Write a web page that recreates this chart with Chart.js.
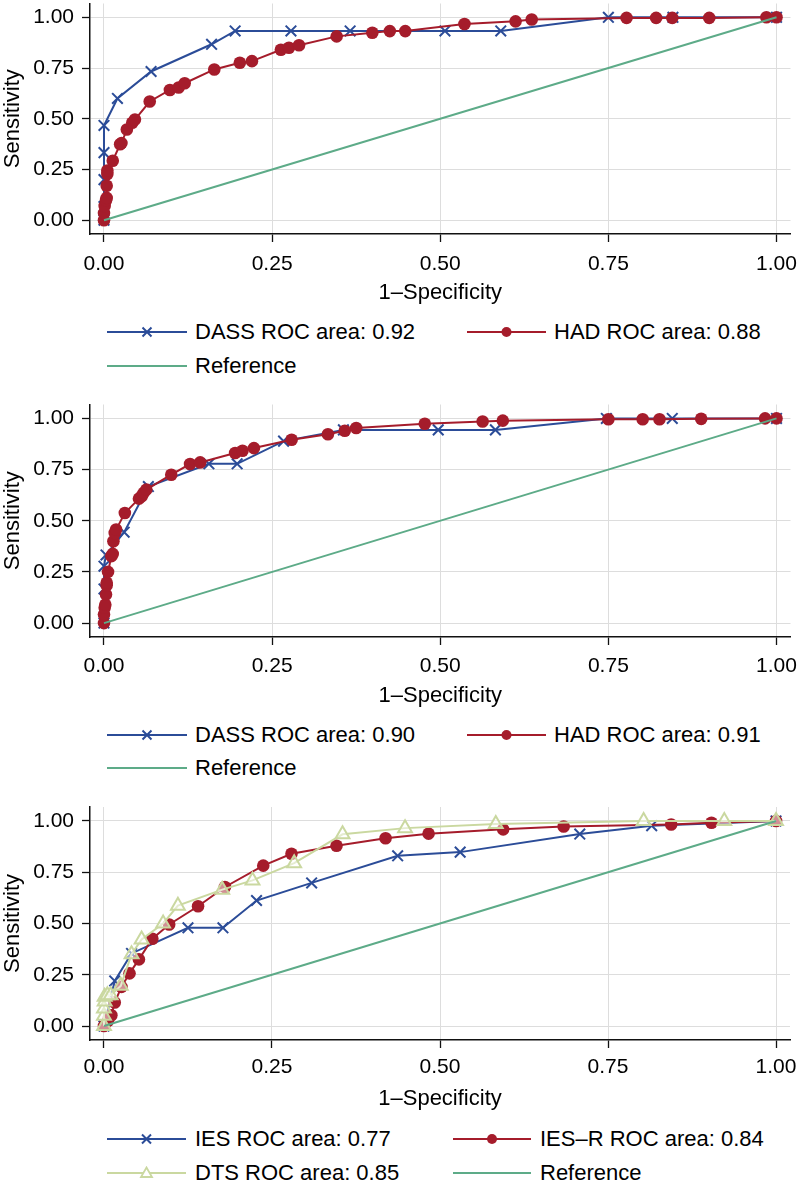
<!DOCTYPE html>
<html><head><meta charset="utf-8">
<script src="https://cdn.jsdelivr.net/npm/chart.js@4.4.1/dist/chart.umd.min.js"></script>
<style>
body{margin:0;background:#fff;}
#wrap{position:relative;width:800px;height:1185px;overflow:hidden;background:#fff;font-family:"Liberation Sans",Arial,Helvetica,sans-serif;}
canvas{position:absolute;left:0;}
.leg{position:absolute;height:26px;line-height:26px;font-size:22px;color:#000;white-space:nowrap;}
.leg svg{position:absolute;left:0;top:6px;}
.leg span{position:absolute;top:0;}
</style></head>
<body>
<div id="wrap">
<canvas id="c1" width="800" height="315" style="top:-6px"></canvas>
<canvas id="c2" width="800" height="317" style="top:395px"></canvas>
<canvas id="c3" width="800" height="325" style="top:790px"></canvas>
</div>
<script>
// ---------- data ----------
const xTicks = [0, 0.25, 0.5, 0.75, 1];
const yTicks = [0, 0.25, 0.5, 0.75, 1];
const tickLabels = ['0.00', '0.25', '0.50', '0.75', '1.00'];
const xTitle = '1\u2013Specificity';
const yTitle = 'Sensitivity';

// Panel 1
const dass1X = [0, 0, 0, 0, 0, 0.02, 0.07, 0.16, 0.195, 0.278, 0.366, 0.507, 0.59, 0.75, 0.846, 1];
const dass1Y = [0, 0.067, 0.2, 0.333, 0.467, 0.6, 0.733, 0.867, 0.933, 0.933, 0.933, 0.933, 0.933, 1, 1, 1];
const had1X = [0, 0, 0.001, 0.003, 0.004, 0.004, 0.005, 0.005, 0.013, 0.024, 0.026, 0.034, 0.042, 0.046, 0.068, 0.098, 0.111, 0.12, 0.164, 0.202, 0.22, 0.263, 0.275, 0.29, 0.346, 0.399, 0.425, 0.448, 0.536, 0.612, 0.636, 0.777, 0.821, 0.845, 0.9, 0.985, 1];
const had1Y = [0, 0.035, 0.07, 0.098, 0.11, 0.17, 0.228, 0.245, 0.293, 0.374, 0.38, 0.447, 0.48, 0.496, 0.585, 0.642, 0.654, 0.675, 0.743, 0.776, 0.784, 0.84, 0.85, 0.862, 0.906, 0.924, 0.932, 0.932, 0.967, 0.98, 0.989, 0.997, 0.997, 0.997, 0.997, 1, 1];
const legend1 = ['DASS ROC area: 0.92', 'HAD ROC area: 0.88', 'Reference'];

// Panel 2
const dass2X = [0, 0, 0, 0.003, 0.03, 0.066, 0.156, 0.198, 0.267, 0.356, 0.497, 0.582, 0.747, 0.845, 1];
const dass2Y = [0, 0.167, 0.278, 0.333, 0.444, 0.667, 0.778, 0.778, 0.889, 0.944, 0.944, 0.944, 1, 1, 1];
const had2X = [0, 0, 0.001, 0.002, 0.003, 0.004, 0.004, 0.006, 0.011, 0.013, 0.014, 0.016, 0.018, 0.031, 0.052, 0.056, 0.059, 0.063, 0.1, 0.128, 0.143, 0.195, 0.206, 0.223, 0.279, 0.333, 0.358, 0.375, 0.477, 0.563, 0.593, 0.75, 0.801, 0.826, 0.888, 0.983, 1];
const had2Y = [0, 0.042, 0.075, 0.09, 0.14, 0.185, 0.197, 0.25, 0.327, 0.338, 0.4, 0.44, 0.457, 0.538, 0.608, 0.62, 0.636, 0.652, 0.725, 0.777, 0.785, 0.831, 0.842, 0.855, 0.896, 0.923, 0.94, 0.953, 0.974, 0.985, 0.989, 0.996, 0.996, 0.996, 0.998, 1, 1];
const legend2 = ['DASS ROC area: 0.90', 'HAD ROC area: 0.91', 'Reference'];

// Panel 3
const ies3X = [0, 0.016, 0.041, 0.125, 0.177, 0.227, 0.309, 0.437, 0.53, 0.708, 0.815, 1];
const ies3Y = [0, 0.22, 0.354, 0.479, 0.479, 0.612, 0.698, 0.83, 0.848, 0.936, 0.977, 1];
const iesr3X = [0, 0.006, 0.011, 0.016, 0.026, 0.038, 0.052, 0.072, 0.097, 0.14, 0.18, 0.237, 0.279, 0.346, 0.419, 0.483, 0.594, 0.684, 0.844, 0.904, 1];
const iesr3Y = [0, 0.026, 0.053, 0.115, 0.191, 0.257, 0.325, 0.426, 0.495, 0.584, 0.678, 0.782, 0.84, 0.879, 0.916, 0.938, 0.959, 0.973, 0.983, 0.991, 1];
const dts3X = [0, 0, 0, 0.001, 0.001, 0.005, 0.01, 0.025, 0.041, 0.056, 0.088, 0.11, 0.176, 0.221, 0.283, 0.355, 0.448, 0.583, 0.803, 0.923, 1];
const dts3Y = [0, 0.05, 0.085, 0.12, 0.143, 0.15, 0.15, 0.196, 0.35, 0.422, 0.5, 0.587, 0.665, 0.71, 0.794, 0.935, 0.965, 0.985, 1, 1, 1];
const legend3 = ['IES ROC area: 0.77', 'IES\u2013R ROC area: 0.84', 'DTS ROC area: 0.85', 'Reference'];

// Reference diagonal
const refX = [0, 1];
const refY = [0, 1];

// ---------- styles ----------
const BLUE = '#2b4c98';
const RED = '#a51c2b';
const LGREEN = '#cad8a0';
const TEAL = '#5dab88';
const FONT = '"Liberation Sans", Arial, Helvetica, sans-serif';

function pts(xs, ys) { return xs.map((x, i) => ({ x: x, y: ys[i] })); }

function ds(label, xs, ys, kind, order) {
  const base = { label, data: pts(xs, ys), showLine: true, borderWidth: 2, order, clip: false };
  if (kind === 'x') return Object.assign(base, { borderColor: BLUE, backgroundColor: BLUE, pointStyle: 'crossRot', pointRadius: 7.5, pointBorderWidth: 2, pointBorderColor: BLUE });
  if (kind === 'o') return Object.assign(base, { borderColor: RED, backgroundColor: RED, pointStyle: 'circle', pointRadius: 6.3, pointBorderWidth: 0, pointBackgroundColor: RED });
  if (kind === 't') return Object.assign(base, { borderColor: LGREEN, backgroundColor: 'rgba(255,255,255,0)', pointStyle: 'triangle', pointRadius: 8, pointBorderWidth: 2, pointBorderColor: LGREEN, pointBackgroundColor: 'rgba(255,255,255,0.5)' });
  return Object.assign(base, { borderColor: TEAL, pointRadius: 0, borderWidth: 2 });
}

function makeChart(id, datasets, padTop, xTickPad) {
  const tickFont = { family: FONT, size: 21 };
  const titleFont = { family: FONT, size: 22 };
  return new Chart(document.getElementById(id), {
    type: 'scatter',
    data: { datasets },
    options: {
      responsive: false,
      animation: false,
      events: [],
      layout: { padding: { top: padTop, right: 9, left: 0, bottom: 0 } },
      plugins: { legend: { display: false }, tooltip: { enabled: false } },
      scales: {
        x: {
          type: 'linear', min: -0.0208, max: 1.0208,
          afterBuildTicks: s => { s.ticks = xTicks.map(v => ({ value: v })); },
          afterFit: s => { s.height = 75; s.paddingLeft = 0; s.paddingRight = 0; s.paddingTop = 0; s.paddingBottom = 0; },
          ticks: { callback: (v, i) => tickLabels[i], font: tickFont, color: '#000', padding: xTickPad, maxRotation: 0, autoSkip: false },
          grid: { color: '#dddddd', lineWidth: 1, tickColor: '#111', tickLength: 8, tickWidth: 1.3 },
          border: { color: '#111', width: 1.5 },
          title: { display: true, text: xTitle, font: titleFont, color: '#000', padding: { top: 0, bottom: 3 } }
        },
        y: {
          type: 'linear', min: -0.068, max: 1.068,
          afterBuildTicks: s => { s.ticks = yTicks.map(v => ({ value: v })); },
          afterFit: s => { s.width = 90; s.paddingTop = 0; s.paddingBottom = 0; s.paddingLeft = 0; s.paddingRight = 0; },
          ticks: { callback: (v, i) => tickLabels[i], font: tickFont, color: '#000', padding: 8, autoSkip: false },
          grid: { color: '#dddddd', lineWidth: 1, tickColor: '#111', tickLength: 8, tickWidth: 1.3 },
          border: { color: '#111', width: 1.5 },
          title: { display: true, text: yTitle, font: titleFont, color: '#000', padding: { top: 0, bottom: 0 } }
        }
      }
    }
  });
}

makeChart('c1', [
  ds(legend1[0], dass1X, dass1Y, 'x', 3),
  ds(legend1[1], had1X, had1Y, 'o', 2),
  ds(legend1[2], refX, refY, 'ref', 1)
], 7, 10);
makeChart('c2', [
  ds(legend2[0], dass2X, dass2Y, 'x', 3),
  ds(legend2[1], had2X, had2Y, 'o', 2),
  ds(legend2[2], refX, refY, 'ref', 1)
], 8, 9);
makeChart('c3', [
  ds(legend3[0], ies3X, ies3Y, 'x', 4),
  ds(legend3[1], iesr3X, iesr3Y, 'o', 3),
  ds(legend3[2], dts3X, dts3Y, 't', 2),
  ds(legend3[3], refX, refY, 'ref', 1)
], 17, 7);

// ---------- HTML legends ----------
function markerSvg(kind, len) {
  const c = len / 2;
  let col = kind === 'x' ? BLUE : kind === 'o' ? RED : kind === 't' ? LGREEN : TEAL;
  let s = '<svg width="' + len + '" height="14" viewBox="0 0 ' + len + ' 14"><line x1="0" y1="7" x2="' + len + '" y2="7" stroke="' + col + '" stroke-width="2.2"/>';
  if (kind === 'x') s += '<path d="M' + (c - 4.5) + ' 2.5 L' + (c + 4.5) + ' 11.5 M' + (c + 4.5) + ' 2.5 L' + (c - 4.5) + ' 11.5" stroke="' + col + '" stroke-width="2"/>';
  if (kind === 'o') s += '<circle cx="' + c + '" cy="7" r="5" fill="' + col + '"/>';
  if (kind === 't') s += '<path d="M' + c + ' 1.5 L' + (c + 5.5) + ' 11 L' + (c - 5.5) + ' 11 Z" fill="#fff" stroke="' + col + '" stroke-width="1.8"/>';
  return s + '</svg>';
}
function addLegend(label, kind, lineL, lineR, textL, centerY) {
  const d = document.createElement('div');
  d.className = 'leg';
  d.style.left = lineL + 'px';
  d.style.top = (centerY - 13) + 'px';
  d.innerHTML = markerSvg(kind, lineR - lineL) + '<span style="left:' + (textL - lineL) + 'px">' + label + '</span>';
  document.getElementById('wrap').appendChild(d);
}
addLegend(legend1[0], 'x', 107, 187, 195, 332);
addLegend(legend1[1], 'o', 467, 546, 554, 332);
addLegend(legend1[2], 'ref', 107, 187, 195, 366);
addLegend(legend2[0], 'x', 107, 187, 195, 735);
addLegend(legend2[1], 'o', 467, 546, 554, 735);
addLegend(legend2[2], 'ref', 107, 187, 195, 768);
addLegend(legend3[0], 'x', 107, 186, 195, 1139);
addLegend(legend3[1], 'o', 453, 531, 540, 1139);
addLegend(legend3[2], 't', 107, 186, 195, 1173);
addLegend(legend3[3], 'ref', 453, 531, 540, 1173);
</script>
</body></html>
